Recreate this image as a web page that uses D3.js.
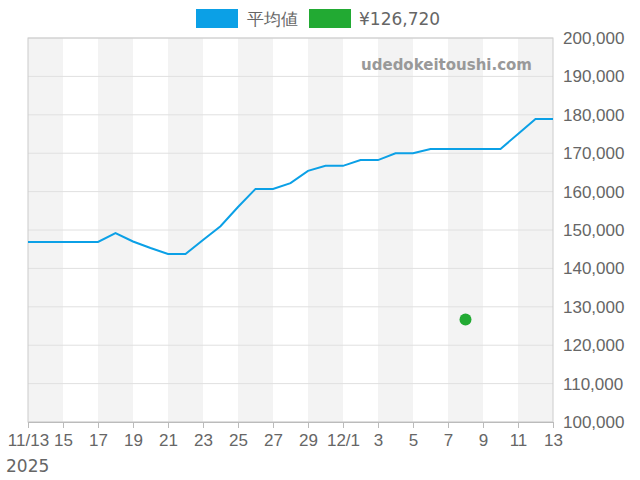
<!DOCTYPE html>
<html><head><meta charset="utf-8">
<script src="https://cdn.jsdelivr.net/npm/d3@7"></script>
<style>body{margin:0;background:#fff;font-family:"DejaVu Sans",sans-serif}</style>
</head><body>
<script>
// daily average price, 11/13 .. 12/13
var avgValues = [146900,146900,146900,146900,146900,149200,147000,145300,143750,143750,
  147400,151000,156000,160700,160700,162200,165400,166700,166700,168200,
  168200,170000,170000,171100,171100,171100,171100,171100,175000,178900,178900]
var pointDate = new Date(2025, 11, 8)
var pointValue = 126720
var yTicks = [100000,110000,120000,130000,140000,150000,160000,170000,180000,190000,200000]
var start = new Date(2025, 10, 13)
var dates = avgValues.map((v, i) => d3.timeDay.offset(start, i))
var tickLabels = ["11/13","15","17","19","21","23","25","27","29","12/1","3","5","7","9","11","13"]

var margin = {top: 38, right: 87, bottom: 58, left: 28}
var width = 640, height = 480
var svg = d3.select("body").append("svg").attr("width", width).attr("height", height)

var x = d3.scaleTime().domain([start, dates[dates.length-1]]).range([margin.left, width-margin.right])
var y = d3.scaleLinear().domain([100000, 200000]).range([height-margin.bottom, margin.top])

// alternating bands every 2 days
for (var i = 0; i < 30; i += 4) {
  var a = d3.timeDay.offset(start, i), b = d3.timeDay.offset(start, Math.min(i+2, 30))
  svg.append("rect").attr("x", x(a)).attr("y", margin.top).attr("width", x(b)-x(a))
    .attr("height", y(100000)-y(200000)).attr("fill", "#f3f3f3")
}
svg.selectAll(".grid").data(yTicks).join("line")
  .attr("x1", margin.left).attr("x2", width-margin.right)
  .attr("y1", d => y(d)).attr("y2", d => y(d)).attr("stroke", "#e0e0e0")

svg.append("rect").attr("x", margin.left).attr("y", margin.top)
  .attr("width", x.range()[1]-margin.left).attr("height", y(100000)-y(200000))
  .attr("fill", "none").attr("stroke", "#ccc")

var tickDates = tickLabels.map((t, i) => d3.timeDay.offset(start, i*2))
var xAxis = svg.append("g").attr("transform", "translate(0," + (height-margin.bottom) + ")")
  .call(d3.axisBottom(x).tickValues(tickDates).tickFormat((d, i) => tickLabels[i]).tickSize(6))
xAxis.select(".domain").attr("stroke", "#bbb")
xAxis.selectAll("line").attr("stroke", "#bbb")
xAxis.selectAll("text").attr("fill", "#666").style("font-size", "17px").attr("dy", "0.9em")
svg.append("text").attr("x", 6).attr("y", 472).attr("fill", "#666").style("font-size", "17px").text("2025")

var yAxis = svg.append("g").attr("transform", "translate(" + (width-margin.right) + ",0)")
  .call(d3.axisRight(y).tickValues(yTicks).tickFormat(d3.format(",")).tickSize(0))
yAxis.select(".domain").remove()
yAxis.selectAll("text").attr("fill", "#666").style("font-size", "17px").attr("x", 10)

svg.append("text").attr("x", 532).attr("y", 70).attr("text-anchor", "end")
  .attr("fill", "#999").style("font-size", "15px").style("font-weight", "bold").text("udedokeitoushi.com")

svg.append("path").datum(avgValues)
  .attr("d", d3.line().x((d, i) => x(dates[i])).y(d => y(d)))
  .attr("fill", "none").attr("stroke", "#0ba0e6").attr("stroke-width", 2)

svg.append("circle").attr("cx", x(pointDate)).attr("cy", y(pointValue)).attr("r", 6).attr("fill", "#22aa33")

// legend
svg.append("rect").attr("x", 196).attr("y", 9).attr("width", 42).attr("height", 19).attr("fill", "#0ba0e6")
svg.append("text").attr("x", 247).attr("y", 25).attr("fill", "#666").style("font-size", "17px").text("平均値")
svg.append("rect").attr("x", 309).attr("y", 9).attr("width", 42).attr("height", 19).attr("fill", "#22aa33")
svg.append("text").attr("x", 359).attr("y", 25).attr("fill", "#666").style("font-size", "17px").text("¥126,720")
</script>
</body></html>
